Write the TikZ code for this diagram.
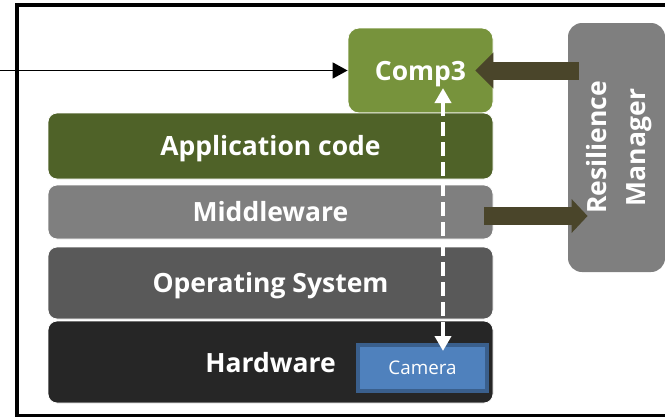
\documentclass[tikz,border=0pt]{standalone}
\usepackage{fontspec}
\setmainfont{Open Sans}
\usetikzlibrary{arrows.meta,calc}
\definecolor{compgreen}{HTML}{77933C}
\definecolor{appgreen}{HTML}{4F6228}
\definecolor{midgrey}{HTML}{7F7F7F}
\definecolor{osgrey}{HTML}{595959}
\definecolor{hwblack}{HTML}{262626}
\definecolor{arrowbrown}{HTML}{4A452A}
\definecolor{camfill}{HTML}{4F81BD}
\definecolor{camborder}{HTML}{3A5F8C}
\tikzset{
  bigtext/.style={text=white, font=\bfseries\fontsize{26.5}{32}\selectfont, text height=19pt, text depth=0pt},
  layer/.style={rectangle, rounded corners=9pt, draw=white, line width=0.8pt, inner sep=0pt, bigtext},
  bigarrow/.style={draw=arrowbrown, line width=18pt},
  dasharrow/.style={draw=white, line width=4pt, dash pattern=on 14pt off 6pt,
    {Triangle[length=15pt,width=16pt]}-{Triangle[length=15pt,width=16pt]}},
}
\begin{document}
\begin{tikzpicture}[x=1pt,y=-1pt]
\useasboundingbox (0,0) rectangle (665,418);
\clip (0,0) rectangle (665,418);
% outer frame
\draw[line width=3.5pt] (17,5) rectangle (720,415.5);
% layers
\node[layer, fill=compgreen, rounded corners=11pt, minimum width=145pt, minimum height=85pt] (comp3) at (420.5,70.5) {Comp3};
\node[layer, fill=appgreen, minimum width=445pt, minimum height=66pt] (app) at (270.5,146) {Application code};
\node[layer, fill=midgrey, minimum width=445pt, minimum height=54pt] (mw) at (270.5,212) {Middleware};
\node[layer, fill=osgrey, minimum width=445pt, minimum height=72pt] (os) at (270.5,283) {Operating System};
\node[layer, fill=hwblack, minimum width=445pt, minimum height=82pt] (hw) at (270.5,362) {};
\node[bigtext, inner sep=0pt] (hwtext) at (270.5,363) {Hardware};
\node[rectangle, fill=camfill, draw=camborder, line width=4pt, minimum width=129pt, minimum height=46pt,
  text=white, font=\fontsize{18.8}{22}\selectfont, text height=13.4pt, text depth=0pt, inner sep=0pt] (cam) at (422.5,368) {Camera};
% resilience manager
\node[layer, fill=midgrey, draw=none, rounded corners=14pt, minimum width=97pt, minimum height=249pt] (rm) at (616.5,147.5) {};
\node[rotate=90, align=center, text=white, font=\bfseries\fontsize{26.5}{39}\selectfont] (rmtext) at (619.5,147.5) {Resilience\\Manager};
% input line
\coordinate (in) at (0,70.5);
\draw[line width=1.6pt, -{Triangle[length=15pt,width=16pt]}] (in) -- (comp3.west);
% thick arrows
\draw[bigarrow, -{Triangle[length=18pt,width=35pt]}] ([xshift=11pt]rm.west |- comp3.center) -- ([xshift=-18pt]comp3.east);
\coordinate (mwout) at ([xshift=-9pt,yshift=-4pt]mw.east);
\draw[bigarrow, -{Triangle[length=16pt,width=33pt]}] (mwout) -- ([xshift=20pt]rm.west |- mwout);
% dashed double arrow
\coordinate (dtop) at ([xshift=22.5pt,yshift=-17.5pt]comp3.center);
\coordinate (dbot) at ($(dtop |- cam.north)+(0,8)$);
\draw[dasharrow] (dtop) -- (dbot);
\end{tikzpicture}
\end{document}
